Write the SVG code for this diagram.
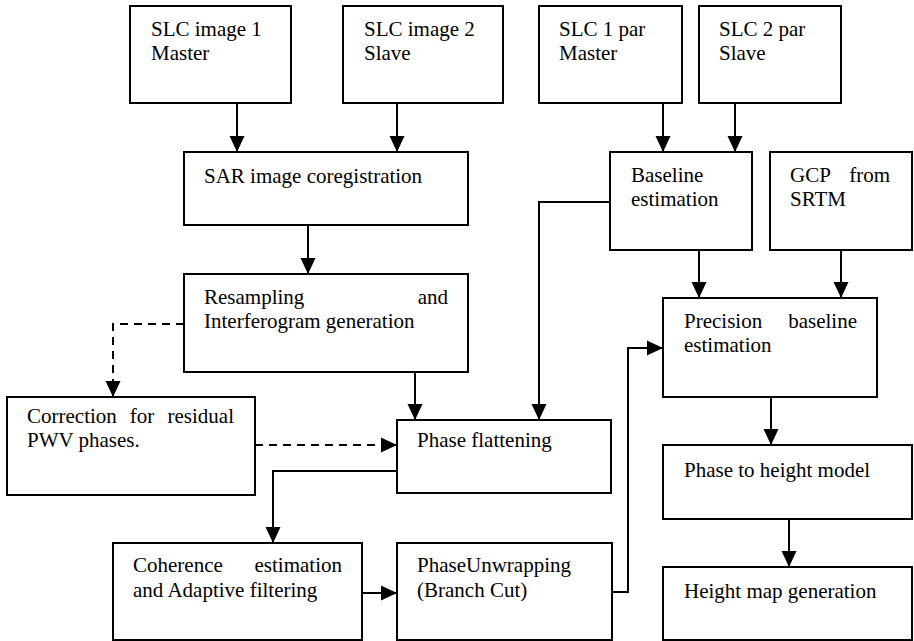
<svg xmlns="http://www.w3.org/2000/svg" width="914" height="641" viewBox="0 0 914 641">
<style>
  .box { fill: #ffffff; stroke: #000000; stroke-width: 2; }
  .t { font-family: 'Liberation Serif', 'Tinos', 'Times New Roman', 'DejaVu Serif', serif; font-size: 21px; fill: #000000; }
  .c { fill: none; stroke: #000000; stroke-width: 2; }
  .d { fill: none; stroke: #000000; stroke-width: 2; stroke-dasharray: 8 6; }
</style>
<defs>
  <marker id="ah" markerUnits="userSpaceOnUse" markerWidth="18" markerHeight="18" viewBox="0 0 18 18" refX="16" refY="9" orient="auto">
    <path d="M0,1.5 L16,9 L0,16.5 Z" fill="#000000"/>
  </marker>
</defs>
<rect width="914" height="641" fill="#ffffff"/>
<g id="connectors">
  <path class="c" d="M237,103 V152" marker-end="url(#ah)"/>
  <path class="c" d="M397,103 V152" marker-end="url(#ah)"/>
  <path class="c" d="M663,103 V152" marker-end="url(#ah)"/>
  <path class="c" d="M735,103 V152" marker-end="url(#ah)"/>
  <path class="c" d="M308,225 V274" marker-end="url(#ah)"/>
  <path class="d" d="M184,324 H113 V397" marker-end="url(#ah)"/>
  <path class="c" d="M415,372 V420" marker-end="url(#ah)"/>
  <path class="c" d="M610,202 H539 V420" marker-end="url(#ah)"/>
  <path class="d" d="M255,445 H397" marker-end="url(#ah)"/>
  <path class="c" d="M397,471 H273 V543" marker-end="url(#ah)"/>
  <path class="c" d="M362,593 H397" marker-end="url(#ah)"/>
  <path class="c" d="M612,592 H628 V348 H663" marker-end="url(#ah)"/>
  <path class="c" d="M699,250 V298" marker-end="url(#ah)"/>
  <path class="c" d="M841,250 V298" marker-end="url(#ah)"/>
  <path class="c" d="M771,397 V445" marker-end="url(#ah)"/>
  <path class="c" d="M789,519 V567" marker-end="url(#ah)"/>
</g>
<g id="slc1">
  <rect class="box" x="130" y="6" width="161" height="97"/>
  <text class="t" x="151" y="36">SLC image 1</text>
  <text class="t" x="151" y="60">Master</text>
</g>
<g id="slc2">
  <rect class="box" x="343" y="6" width="160" height="97"/>
  <text class="t" x="364" y="36">SLC image 2</text>
  <text class="t" x="364" y="60">Slave</text>
</g>
<g id="slc1par">
  <rect class="box" x="539" y="6" width="143" height="97"/>
  <text class="t" x="559" y="36">SLC 1 par</text>
  <text class="t" x="559" y="60">Master</text>
</g>
<g id="slc2par">
  <rect class="box" x="699" y="6" width="142" height="97"/>
  <text class="t" x="719" y="36">SLC 2 par</text>
  <text class="t" x="719" y="60">Slave</text>
</g>
<g id="sar">
  <rect class="box" x="184" y="152" width="284" height="73"/>
  <text class="t" x="204" y="183">SAR image coregistration</text>
</g>
<g id="baseline">
  <rect class="box" x="610" y="152" width="142" height="98"/>
  <text class="t" x="631" y="182">Baseline</text>
  <text class="t" x="631" y="206">estimation</text>
</g>
<g id="gcp">
  <rect class="box" x="770" y="152" width="142" height="98"/>
  <text class="t" y="182"><tspan x="790">GCP</tspan><tspan x="890" text-anchor="end">from</tspan></text>
  <text class="t" x="790" y="206">SRTM</text>
</g>
<g id="resampling">
  <rect class="box" x="184" y="274" width="284" height="98"/>
  <text class="t" y="304"><tspan x="204">Resampling</tspan><tspan x="448" text-anchor="end">and</tspan></text>
  <text class="t" x="204" y="328">Interferogram generation</text>
</g>
<g id="precision">
  <rect class="box" x="663" y="298" width="214" height="99"/>
  <text class="t" y="328"><tspan x="684">Precision</tspan><tspan x="857" text-anchor="end">baseline</tspan></text>
  <text class="t" x="684" y="352">estimation</text>
</g>
<g id="correction">
  <rect class="box" x="7" y="397" width="248" height="98"/>
  <text class="t" y="423"><tspan x="27">Correction</tspan><tspan x="142" text-anchor="middle">for</tspan><tspan x="234" text-anchor="end">residual</tspan></text>
  <text class="t" x="27" y="447">PWV phases.</text>
</g>
<g id="phaseflattening">
  <rect class="box" x="397" y="420" width="214" height="73"/>
  <text class="t" x="417" y="447">Phase flattening</text>
</g>
<g id="phasetoheight">
  <rect class="box" x="663" y="445" width="249" height="74"/>
  <text class="t" x="684" y="477">Phase to height model</text>
</g>
<g id="coherence">
  <rect class="box" x="113" y="543" width="249" height="97"/>
  <text class="t" y="572"><tspan x="133">Coherence</tspan><tspan x="342" text-anchor="end">estimation</tspan></text>
  <text class="t" x="133" y="597">and Adaptive filtering</text>
</g>
<g id="phaseunwrapping">
  <rect class="box" x="397" y="543" width="215" height="97"/>
  <text class="t" x="417" y="572">PhaseUnwrapping</text>
  <text class="t" x="417" y="597">(Branch Cut)</text>
</g>
<g id="heightmap">
  <rect class="box" x="663" y="567" width="249" height="73"/>
  <text class="t" x="684" y="598">Height map generation</text>
</g>
</svg>
